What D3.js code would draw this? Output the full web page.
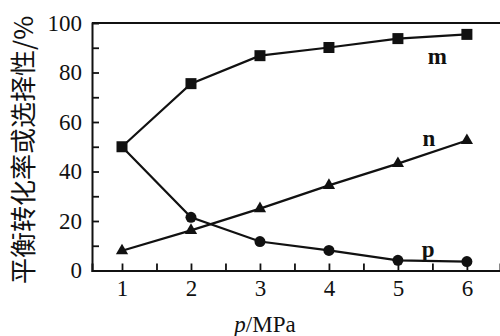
<!DOCTYPE html>
<html>
<head>
<meta charset="utf-8">
<script src="https://cdn.jsdelivr.net/npm/d3@7"></script>
<style>
  body { margin: 0; background: #fff; }
  svg { display: block; }
  text { font-family: "Liberation Serif", "Times New Roman", serif; fill: #111; }
</style>
</head>
<body>
<svg id="chart" width="500" height="336"></svg>
<script>
// pressure (MPa)
const pressures = [1, 2, 3, 4, 5, 6];
// series (%)
const seriesM = [50, 75.5, 86.8, 90.1, 93.7, 95.4];
const seriesN = [8, 16.2, 25, 34.4, 43.2, 52.5];
const seriesP = [50, 21.5, 11.7, 8.1, 4.1, 3.6];
const yTicks = [0, 20, 40, 60, 80, 100];
const xTicks = [1, 2, 3, 4, 5, 6];

const svg = d3.select('#chart');
const margin = { top: 23, right: 0, bottom: 65, left: 92 };
const width = 500, height = 336;

const x = d3.scaleLinear()
  .domain([0.565, 6.48])
  .range([margin.left, width - margin.right]);

const y = d3.scaleLinear()
  .domain([0, 100])
  .range([height - margin.bottom - 0.5, margin.top]);

// frame top line (no right side)
svg.append('line')
  .attr('x1', x.range()[0]).attr('x2', x.range()[1])
  .attr('y1', y(100)).attr('y2', y(100))
  .attr('stroke', '#111')
  .attr('stroke-width', 2);

// X axis, ticks pointing inward every 0.5
const xAxis = svg.append('g')
  .attr('transform', `translate(0,${y(0)})`)
  .call(d3.axisBottom(x)
    .tickValues(d3.range(1, 6.01, 0.5))
    .tickSize(-7)
    .tickFormat(d => xTicks.includes(d) ? d : ''));
xAxis.select('.domain').attr('stroke-width', 2).attr('stroke', '#111');
xAxis.selectAll('.tick line').attr('stroke-width', 1.8).attr('stroke', '#111');
xAxis.selectAll('.tick text')
  .attr('y', 9)
  .attr('dy', '0.71em')
  .style('font-family', '"Liberation Serif", serif')
  .style('font-size', '23px');

// Y axis, ticks pointing inward every 10
const yAxis = svg.append('g')
  .attr('transform', `translate(${x.range()[0]},0)`)
  .call(d3.axisLeft(y)
    .tickValues(d3.range(0, 101, 10))
    .tickSize(-7)
    .tickFormat(d => yTicks.includes(d) ? d : ''));
yAxis.select('.domain').attr('stroke-width', 2).attr('stroke', '#111');
yAxis.selectAll('.tick line').attr('stroke-width', 1.8).attr('stroke', '#111');
yAxis.selectAll('.tick text')
  .attr('x', -10)
  .style('font-family', '"Liberation Serif", serif')
  .style('font-size', '23px');
yAxis.selectAll('.tick')
  .filter(d => d === 100 || d === 0)
  .select('line').remove();

// series lines
const line = d3.line()
  .x((d, i) => x(pressures[i]))
  .y(d => y(d));

[seriesM, seriesN, seriesP].forEach(s => {
  svg.append('path')
    .datum(s)
    .attr('d', line)
    .attr('fill', 'none')
    .attr('stroke', '#111')
    .attr('stroke-width', 2.2);
});

// markers
svg.append('g').selectAll('rect')
  .data(seriesM)
  .enter().append('rect')
  .attr('x', (d, i) => x(pressures[i]) - 5.5)
  .attr('y', d => y(d) - 5.5)
  .attr('width', 11)
  .attr('height', 11)
  .attr('fill', '#111');

const tri = d3.symbol().type(d3.symbolTriangle).size(65);
svg.append('g').selectAll('path')
  .data(seriesN)
  .enter().append('path')
  .attr('d', tri)
  .attr('transform', (d, i) => `translate(${x(pressures[i])},${y(d)})`)
  .attr('fill', '#111');

svg.append('g').selectAll('circle')
  .data(seriesP.slice(1))
  .enter().append('circle')
  .attr('cx', (d, i) => x(pressures[i + 1]))
  .attr('cy', d => y(d))
  .attr('r', 5.5)
  .attr('fill', '#111');

// series labels
const labels = [
  { t: 'm', px: 5.57, v: 83.5 },
  { t: 'n', px: 5.45, v: 50.5 },
  { t: 'p', px: 5.44, v: 5.5 }
];
svg.append('g').selectAll('text')
  .data(labels)
  .enter().append('text')
  .attr('x', d => x(d.px))
  .attr('y', d => y(d.v))
  .attr('text-anchor', 'middle')
  .style('font-size', '23px')
  .style('font-weight', 'bold')
  .text(d => d.t);

// axis titles
const xt = svg.append('text')
  .attr('x', 265)
  .attr('y', 332)
  .attr('text-anchor', 'middle')
  .style('font-size', '23px');
xt.append('tspan').style('font-style', 'italic').text('p');
xt.append('tspan').text('/MPa');

svg.append('text')
  .attr('transform', 'translate(33,150) rotate(-90)')
  .attr('text-anchor', 'middle')
  .style('font-family', '"Noto Sans CJK SC", "Liberation Serif", serif')
  .style('font-size', '26px')
  .text('平衡转化率或选择性/%');
</script>
</body>
</html>
